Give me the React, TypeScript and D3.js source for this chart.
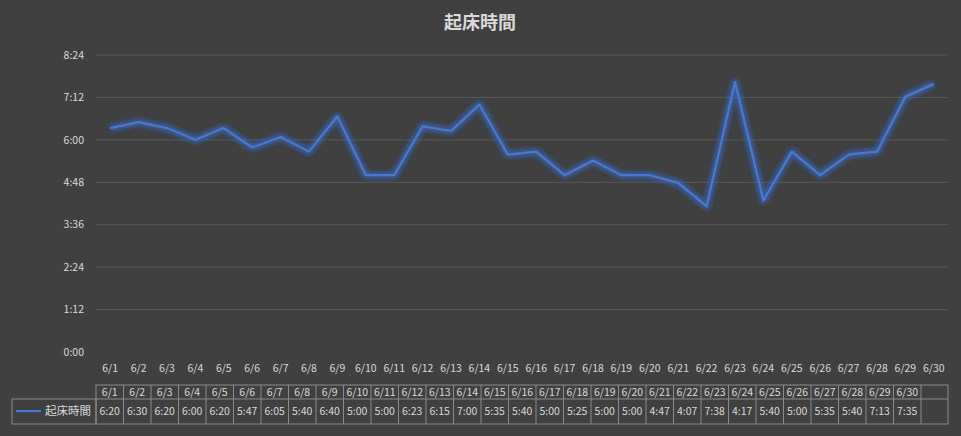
import * as d3 from "d3";

const days = [
  "6/1", "6/2", "6/3", "6/4", "6/5", "6/6", "6/7", "6/8", "6/9", "6/10",
  "6/11", "6/12", "6/13", "6/14", "6/15", "6/16", "6/17", "6/18", "6/19", "6/20",
  "6/21", "6/22", "6/23", "6/24", "6/25", "6/26", "6/27", "6/28", "6/29", "6/30",
];
const wakeTimes = [
  "6:20", "6:30", "6:20", "6:00", "6:20", "5:47", "6:05", "5:40", "6:40", "5:00",
  "5:00", "6:23", "6:15", "7:00", "5:35", "5:40", "5:00", "5:25", "5:00", "5:00",
  "4:47", "4:07", "7:38", "4:17", "5:40", "5:00", "5:35", "5:40", "7:13", "7:35",
];
const yTicks = [0, 72, 144, 216, 288, 360, 432, 504];
const seriesName = "起床時間";
const title = "起床時間";

const W = 961;
const H = 436;
const plot = { left: 96, right: 948, top: 55, bottom: 352 };
const FONT = "'Noto Sans CJK JP', 'Noto Sans', sans-serif";
const TEXT = "#d9d9d9";
const GRID = "#595959";
const BORDER = "#8a8a8a";
const LINE = "#4a78cc";

const toMin = (s: string) => {
  const [h, m] = s.split(":").map(Number);
  return h * 60 + m;
};
const fmt = (v: number) => `${Math.floor(v / 60)}:${String(v % 60).padStart(2, "0")}`;

export default function App() {
  const data = days.map((d, i) => ({ day: d, min: toMin(wakeTimes[i]), label: wakeTimes[i] }));

  const x = d3.scaleBand().domain(days).range([plot.left, plot.right]);
  const y = d3.scaleLinear().domain([0, 504]).range([plot.bottom, plot.top]);

  const line = d3
    .line<{ day: string; min: number }>()
    .x((d) => (x(d.day) || 0) + x.bandwidth() / 2)
    .y((d) => y(d.min));

  // data table columns (Excel draws them a bit narrower, with an empty trailing cell)
  const colW = 27.5;
  const tx = d3.scaleBand().domain(days).range([plot.left, plot.left + colW * days.length]);
  const tHeadTop = 385;
  const tRowTop = 399;
  const tBottom = 424;
  const legendLeft = 12;

  return (
    <svg
      width={W}
      height={H}
      style={{ position: "absolute", left: 0, top: 0, background: "#404040" }}
      fontFamily={FONT}
    >
      <defs>
        <filter id="glow" x="-10%" y="-20%" width="120%" height="140%">
          <feGaussianBlur in="SourceGraphic" stdDeviation="2.6" result="blur" />
          <feMerge>
            <feMergeNode in="blur" />
            <feMergeNode in="blur" />
          </feMerge>
        </filter>
      </defs>
      <rect width={W} height={H} fill="#404040" />

      <text x={480} y={23} dy="0.35em" textAnchor="middle" fill={TEXT} fontSize={18} fontWeight="bold">
        {title}
      </text>

      {yTicks.map((t) => (
        <g key={t}>
          {t > 0 && (
            <line x1={plot.left} x2={plot.right} y1={y(t)} y2={y(t)} stroke={GRID} strokeWidth={1} />
          )}
          <text x={84} y={y(t)} dy="0.35em" textAnchor="end" fill={TEXT} fontSize={10.5}>
            {fmt(t)}
          </text>
        </g>
      ))}

      {days.map((d) => (
        <text
          key={d}
          x={(x(d) || 0) + x.bandwidth() / 2}
          y={368}
          dy="0.35em"
          textAnchor="middle"
          fill={TEXT}
          fontSize={10.5}
        >
          {d}
        </text>
      ))}

      <path
        d={line(data) || ""}
        fill="none"
        stroke="#3a64b8"
        strokeOpacity={0.55}
        strokeWidth={6}
        strokeLinejoin="round"
        filter="url(#glow)"
      />
      <path d={line(data) || ""} fill="none" stroke={LINE} strokeWidth={2.2} strokeLinejoin="round" />

      {/* data table */}
      <g stroke={BORDER} strokeWidth={1} fill="none">
        <rect x={plot.left} y={tHeadTop} width={plot.right - plot.left} height={tBottom - tHeadTop} />
        <rect x={legendLeft} y={tRowTop} width={plot.left - legendLeft} height={tBottom - tRowTop} />
        <line x1={plot.left} x2={plot.right} y1={tRowTop} y2={tRowTop} />
        {days.map((d) => (
          <line key={d} x1={(tx(d) || 0) + colW} x2={(tx(d) || 0) + colW} y1={tHeadTop} y2={tBottom} />
        ))}
      </g>
      {data.map((d) => (
        <g key={d.day}>
          <text
            x={(tx(d.day) || 0) + colW / 2}
            y={(tHeadTop + tRowTop) / 2}
            dy="0.35em"
            textAnchor="middle"
            fill={TEXT}
            fontSize={10.5}
          >
            {d.day}
          </text>
          <text
            x={(tx(d.day) || 0) + colW / 2}
            y={(tRowTop + tBottom) / 2}
            dy="0.35em"
            textAnchor="middle"
            fill={TEXT}
            fontSize={10.5}
          >
            {d.label}
          </text>
        </g>
      ))}
      <line x1={16} x2={41} y1={411} y2={411} stroke={LINE} strokeWidth={2.2} />
      <text x={91} y={411} dy="0.35em" textAnchor="end" fill={TEXT} fontSize={11.5}>
        {seriesName}
      </text>
    </svg>
  );
}
